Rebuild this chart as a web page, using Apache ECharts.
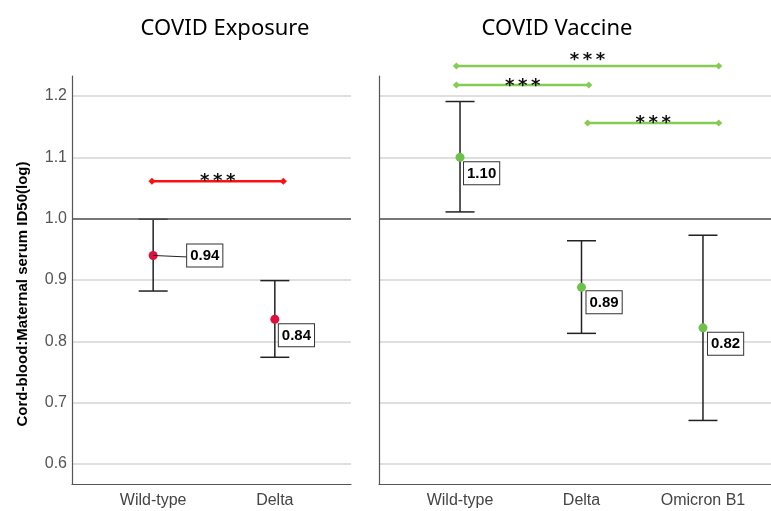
<!DOCTYPE html>
<html>
<head>
<meta charset="utf-8">
<script src="https://cdn.jsdelivr.net/npm/echarts@6.0.0/dist/echarts.min.js"></script>
<style>
  html, body { margin: 0; padding: 0; background: #fff; }
  #main { width: 771px; height: 511px; }
</style>
</head>
<body>
<div id="main"></div>
<script>
// COVID Exposure panel
const exposureCats = ['Wild-type', 'Delta'];
const exposureMean = [0.94, 0.836];
const exposureLow = [0.882, 0.774];
const exposureHigh = [0.999, 0.899];
// significance bars: [from, to, height]
const exposureSig = [[0.99, 2.07, 1.061]];

// COVID Vaccine panel
const vaccineCats = ['Wild-type', 'Delta', 'Omicron B1'];
const vaccineMean = [1.10, 0.888, 0.822];
const vaccineLow = [1.011, 0.813, 0.671];
const vaccineHigh = [1.191, 0.964, 0.973];
const vaccineSig = [[0.97, 3.13, 1.249], [0.97, 2.06, 1.218], [2.05, 3.13, 1.156]];

const yTicks = [0.6, 0.7, 0.8, 0.9, 1.0, 1.1, 1.2];

// label box offsets in px from the point (dx, dy, leader line)
const exposureLabelPos = [[34, -11, true], [4, 5, false]];
const vaccineLabelPos = [[4, 5, false], [5, 4, false], [5, 5, false]];
// how far the stars sit above their bar, px
const exposureStarLift = [5];
const vaccineStarLift = [11, 4, 5];

const RED = '#e0103c', RED_BAR = '#ff1010';
const GREEN = '#6cc24a', GREEN_BAR = '#84cc52';

const chart = echarts.init(document.getElementById('main'));

const errorBars = (params, api) => {
  const x = api.value(0);
  const lo = api.coord([x, api.value(2)]);
  const hi = api.coord([x, api.value(3)]);
  const w = 14.5;
  const st = { stroke: '#222', lineWidth: 1.5 };
  return {
    type: 'group',
    children: [
      { type: 'line', shape: { x1: lo[0], y1: lo[1], x2: hi[0], y2: hi[1] }, style: st },
      { type: 'line', shape: { x1: lo[0] - w, y1: lo[1], x2: lo[0] + w, y2: lo[1] }, style: st },
      { type: 'line', shape: { x1: hi[0] - w, y1: hi[1], x2: hi[0] + w, y2: hi[1] }, style: st }
    ]
  };
};

const valueLabels = (pos) => (params, api) => {
  const p = api.coord([api.value(0), api.value(1)]);
  const o = pos[params.dataIndex];
  const children = [];
  if (o[2]) {
    children.push({ type: 'line', shape: { x1: p[0], y1: p[1], x2: p[0] + o[0], y2: p[1] + 1.5 },
      style: { stroke: '#222', lineWidth: 1 } });
  }
  children.push({
    type: 'text', x: p[0] + o[0], y: p[1] + o[1],
    style: {
      text: api.value(1).toFixed(2), font: 'bold 15px "Liberation Sans"', fill: '#000',
      backgroundColor: '#fff', borderColor: '#333', borderWidth: 1, padding: [4, 3, 3, 3],
      align: 'left', verticalAlign: 'top'
    }
  });
  return { type: 'group', children };
};

const sigBars = (color, lift) => (params, api) => {
  const a = api.coord([api.value(0), api.value(2)]);
  const b = api.coord([api.value(1), api.value(2)]);
  const d = 3.5;
  const diamond = (c) => ({ type: 'polygon',
    shape: { points: [[c[0] - d, c[1]], [c[0], c[1] - d], [c[0] + d, c[1]], [c[0], c[1] + d]] },
    style: { fill: color } });
  const mid = (a[0] + b[0]) / 2;
  const stars = [-13, 0, 13].map((dx) => ({
    type: 'text', x: mid + dx, y: a[1] - lift[params.dataIndex] + 5,
    style: { text: '*', font: 'bold 18px "DejaVu Sans"', fill: '#111', align: 'center', verticalAlign: 'middle' }
  }));
  return {
    type: 'group',
    children: [
      { type: 'line', shape: { x1: a[0], y1: a[1], x2: b[0], y2: b[1] }, style: { stroke: color, lineWidth: 2.5 } },
      diamond(a), diamond(b),
      ...stars
    ]
  };
};

const xAxisFor = (idx, cats, max) => ({
  type: 'value', gridIndex: idx, min: 0.333, max: max,
  axisLine: { show: true, lineStyle: { color: '#555', width: 1.2 } },
  axisTick: { show: false },
  splitLine: { show: false },
  axisLabel: {
    customValues: cats.map((c, i) => i + 1),
    formatter: (v) => cats[Math.round(v) - 1],
    color: '#444', fontSize: 16, fontFamily: 'Liberation Sans', margin: 9
  }
});

const yAxisFor = (idx, showLabels) => ({
  type: 'value', gridIndex: idx, min: 0.5674, max: 1.2326,
  axisLine: { show: true, lineStyle: { color: '#555', width: 1.2 } },
  axisTick: { show: false },
  splitLine: { show: true, showMinLine: false, showMaxLine: false, lineStyle: { color: '#d4d4d4', width: 1.5 } },
  axisLabel: {
    show: showLabels, customValues: yTicks, formatter: (v) => v.toFixed(1),
    color: '#555', fontSize: 16, fontFamily: 'Liberation Sans', margin: 5
  }
});

const panelSeries = (idx, cats, mean, low, high, sig, color, barColor, labelPos, lift) => {
  const rows = cats.map((c, i) => [i + 1, mean[i], low[i], high[i]]);
  return [
    { type: 'custom', xAxisIndex: idx, yAxisIndex: idx, renderItem: errorBars, data: rows, z: 3, silent: true },
    {
      type: 'scatter', xAxisIndex: idx, yAxisIndex: idx, symbolSize: 9, z: 4,
      itemStyle: { color: color, opacity: 1 },
      data: cats.map((c, i) => [i + 1, mean[i]]),
      markLine: {
        silent: true, symbol: 'none', label: { show: false },
        lineStyle: { color: '#555', width: 1.5, type: 'solid' },
        data: [{ yAxis: 1.0 }]
      }
    },
    { type: 'custom', xAxisIndex: idx, yAxisIndex: idx, renderItem: valueLabels(labelPos), data: rows, z: 5, silent: true },
    { type: 'custom', xAxisIndex: idx, yAxisIndex: idx, renderItem: sigBars(barColor, lift), data: sig, z: 5, silent: true, clip: false }
  ];
};

const option = {
  animation: false,
  backgroundColor: '#fff',
  title: [
    { text: 'COVID Exposure', left: 220, top: 13, textAlign: 'center',
      textStyle: { fontSize: 22, fontWeight: 'normal', color: '#000', fontFamily: 'Noto Sans' } },
    { text: 'COVID Vaccine', left: 552, top: 13, textAlign: 'center',
      textStyle: { fontSize: 22, fontWeight: 'normal', color: '#000', fontFamily: 'Noto Sans' } }
  ],
  graphic: [{
    type: 'text', x: 23, y: 294, rotation: Math.PI / 2,
    style: { text: 'Cord-blood:Maternal serum ID50(log)', font: 'bold 15px "Liberation Sans"',
      fill: '#000', align: 'center', verticalAlign: 'middle' }
  }],
  grid: [
    { left: 72, top: 76, width: 279, height: 408 },
    { left: 379, top: 76, width: 392, height: 408 }
  ],
  xAxis: [xAxisFor(0, exposureCats, 2.626), xAxisFor(1, vaccineCats, 3.56)],
  yAxis: [yAxisFor(0, true), yAxisFor(1, false)],
  series: [
    ...panelSeries(0, exposureCats, exposureMean, exposureLow, exposureHigh, exposureSig, RED, RED_BAR, exposureLabelPos, exposureStarLift),
    ...panelSeries(1, vaccineCats, vaccineMean, vaccineLow, vaccineHigh, vaccineSig, GREEN, GREEN_BAR, vaccineLabelPos, vaccineStarLift)
  ]
};

chart.setOption(option);
</script>
</body>
</html>
